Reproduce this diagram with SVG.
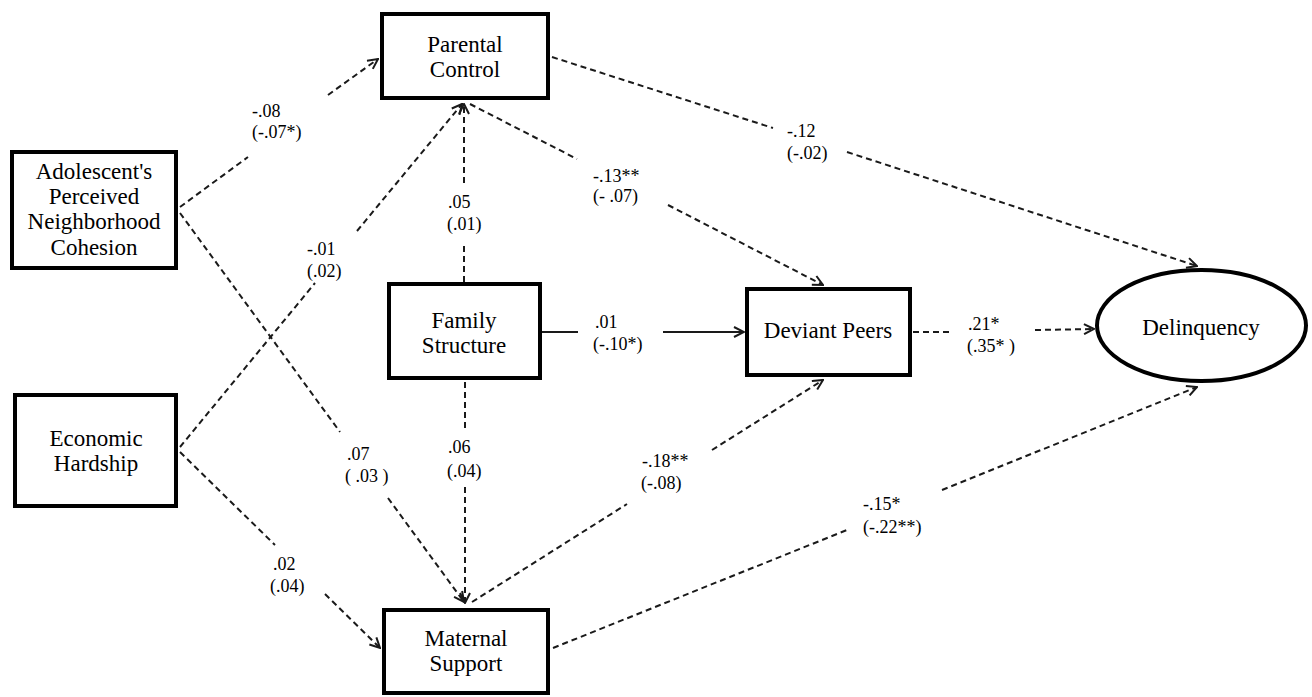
<svg xmlns="http://www.w3.org/2000/svg" width="1312" height="697" viewBox="0 0 1312 697">
<style>
.box{fill:#fff;stroke:#000;stroke-width:4}
.nt{font-family:'Liberation Serif',serif;font-size:23px;fill:#000;text-anchor:middle}
.el{font-family:'Liberation Serif',serif;font-size:18px;fill:#000}
.d{fill:none;stroke:#1a1a1a;stroke-width:2;stroke-dasharray:6 4}
.s{fill:none;stroke:#1a1a1a;stroke-width:2}
.ah{fill:none;stroke:#1a1a1a;stroke-width:2;stroke-dasharray:none}
</style>
<defs>
<marker id="arr" viewBox="0 0 12 12" refX="11" refY="6" markerWidth="12" markerHeight="12" markerUnits="userSpaceOnUse" orient="auto">
<path class="ah" d="M1,1 L11,6 L1,11"/>
</marker>
</defs>
<rect width="1312" height="697" fill="#fff"/>
<g id="connectors">
<line class="d" x1="180" y1="207" x2="248" y2="157"/>
<line class="d" x1="328" y1="95" x2="378" y2="59" marker-end="url(#arr)"/>
<line class="d" x1="180" y1="213" x2="340" y2="432"/>
<line class="d" x1="388" y1="498" x2="464" y2="602" marker-end="url(#arr)"/>
<line class="d" x1="180" y1="447" x2="315" y2="283"/>
<line class="d" x1="357" y1="231" x2="462" y2="104" marker-end="url(#arr)"/>
<line class="d" x1="180" y1="452" x2="275" y2="545"/>
<line class="d" x1="325" y1="594" x2="380" y2="648" marker-end="url(#arr)"/>
<line class="d" x1="464" y1="282" x2="464" y2="245"/>
<line class="d" x1="464" y1="183" x2="464" y2="104" marker-end="url(#arr)"/>
<line class="d" x1="465" y1="382" x2="465" y2="428"/>
<line class="d" x1="465" y1="487" x2="465" y2="603" marker-end="url(#arr)"/>
<line class="s" x1="542" y1="332" x2="578" y2="332"/>
<line class="s" x1="663" y1="332" x2="744" y2="332" marker-end="url(#arr)"/>
<line class="d" x1="470" y1="104" x2="577" y2="159"/>
<line class="d" x1="668" y1="205" x2="823" y2="285" marker-end="url(#arr)"/>
<line class="d" x1="552" y1="57" x2="773" y2="128"/>
<line class="d" x1="847" y1="152" x2="1197" y2="266" marker-end="url(#arr)"/>
<line class="d" x1="913" y1="332" x2="952" y2="332"/>
<line class="d" x1="1035" y1="330" x2="1094" y2="329" marker-end="url(#arr)"/>
<line class="d" x1="472" y1="602" x2="627" y2="504"/>
<line class="d" x1="712" y1="450" x2="823" y2="380" marker-end="url(#arr)"/>
<line class="d" x1="553" y1="648" x2="847" y2="530"/>
<line class="d" x1="942" y1="490" x2="1197" y2="387" marker-end="url(#arr)"/>
</g>
<g id="edge-labels">
<text class="el" x="252" y="117">-.08</text><text class="el" x="252" y="138">(-.07*)</text>
<text class="el" x="307" y="255">-.01</text><text class="el" x="307" y="277">(.02)</text>
<text class="el" x="448" y="208">.05</text><text class="el" x="447" y="230">(.01)</text>
<text class="el" x="593" y="182">-.13**</text><text class="el" x="593" y="202">(- .07)</text>
<text class="el" x="787" y="137">-.12</text><text class="el" x="787" y="159">(-.02)</text>
<text class="el" x="595" y="328">.01</text><text class="el" x="593" y="350">(-.10*)</text>
<text class="el" x="968" y="330">.21*</text><text class="el" x="967" y="352">(.35* )</text>
<text class="el" x="347" y="460">.07</text><text class="el" x="345" y="482">( .03 )</text>
<text class="el" x="273" y="570">.02</text><text class="el" x="270" y="592">(.04)</text>
<text class="el" x="448" y="453">.06</text><text class="el" x="447" y="477">(.04)</text>
<text class="el" x="642" y="467">-.18**</text><text class="el" x="641" y="489">(-.08)</text>
<text class="el" x="863" y="510">-.15*</text><text class="el" x="863" y="533">(-.22**)</text>
</g>
<g id="node-adolescent">
<rect class="box" x="12" y="152" width="164" height="116"/>
<text class="nt" x="94" y="179">Adolescent's</text>
<text class="nt" x="94" y="204">Perceived</text>
<text class="nt" x="94" y="229">Neighborhood</text>
<text class="nt" x="94" y="255">Cohesion</text>
</g>
<g id="node-economic">
<rect class="box" x="15" y="395" width="161" height="111"/>
<text class="nt" x="96" y="446">Economic</text>
<text class="nt" x="96" y="471">Hardship</text>
</g>
<g id="node-parental">
<rect class="box" x="382" y="14" width="166" height="84"/>
<text class="nt" x="465" y="52">Parental</text>
<text class="nt" x="465" y="77">Control</text>
</g>
<g id="node-family">
<rect class="box" x="389" y="284" width="151" height="94"/>
<text class="nt" x="464" y="328">Family</text>
<text class="nt" x="464" y="353">Structure</text>
</g>
<g id="node-maternal">
<rect class="box" x="384" y="610" width="164" height="83"/>
<text class="nt" x="466" y="646">Maternal</text>
<text class="nt" x="466" y="671">Support</text>
</g>
<g id="node-deviant">
<rect class="box" x="747" y="289" width="163" height="86"/>
<text class="nt" x="828" y="338">Deviant Peers</text>
</g>
<g id="node-delinquency">
<ellipse class="box" cx="1201.5" cy="325.5" rx="104.5" ry="55.5"/>
<text class="nt" x="1201" y="335">Delinquency</text>
</g>
</svg>
